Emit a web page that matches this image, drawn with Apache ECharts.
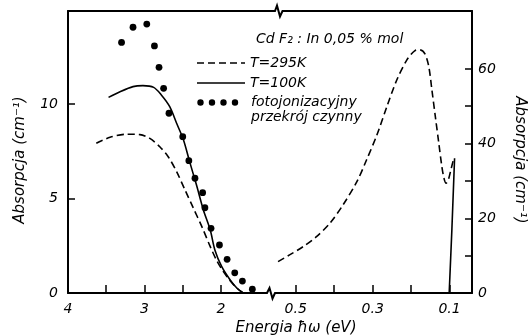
<!DOCTYPE html>
<html><head><meta charset="utf-8">
<script src="https://cdn.jsdelivr.net/npm/echarts@6/dist/echarts.min.js"></script>
<style>html,body{margin:0;padding:0;background:#fff}#c{width:529px;height:336px}</style>
</head><body><div id="c"></div>
<script>
// ---- data (energy in eV, absorption in cm^-1) ----
// visible / near-UV range (left axis)
const t295VisE = [3.63, 3.45, 3.23, 3.06, 2.93, 2.80, 2.69, 2.58, 2.47, 2.36, 2.25, 2.14, 2.06, 1.98, 1.88, 1.79, 1.71];
const t295VisA = [7.92, 8.24, 8.40, 8.38, 8.18, 7.74, 7.21, 6.42, 5.45, 4.48, 3.51, 2.45, 1.75, 1.2, 0.65, 0.25, 0.0];
const t100VisE = [3.47, 3.32, 3.15, 3.02, 2.88, 2.78, 2.67, 2.58, 2.49, 2.41, 2.32, 2.23, 2.14, 2.08, 1.99, 1.88, 1.79, 1.71];
const t100VisA = [10.35, 10.65, 10.92, 10.97, 10.88, 10.48, 9.86, 8.98, 8.10, 6.95, 5.71, 4.39, 3.33, 2.28, 1.39, 0.69, 0.25, 0.0];
const photoE = [3.30, 3.15, 2.97, 2.87, 2.81, 2.75, 2.68, 2.50, 2.42, 2.34, 2.24, 2.21, 2.13, 2.02, 1.92, 1.82, 1.72, 1.59];
const photoA = [13.26, 14.06, 14.23, 13.07, 11.94, 10.83, 9.51, 8.27, 7.00, 6.07, 5.31, 4.51, 3.42, 2.54, 1.78, 1.07, 0.63, 0.20];
// infrared range (right axis)
const t295IrE = [0.546, 0.516, 0.481, 0.446, 0.411, 0.377, 0.341, 0.316, 0.289, 0.263, 0.237, 0.211, 0.190, 0.177, 0.164, 0.154, 0.146, 0.137, 0.128, 0.120, 0.114, 0.109, 0.103, 0.097, 0.090];
const t295IrA = [8.4, 10.2, 12.4, 15.1, 18.7, 23.6, 29.8, 35.6, 42.3, 49.9, 57.1, 62.4, 64.9, 65.1, 64.0, 60.6, 54.4, 47.2, 40.1, 33.8, 30.5, 29.4, 30.4, 32.8, 35.7];
const t100IrE = [0.101, 0.094, 0.087];
const t100IrA = [0.0, 17.0, 36.1];
// axis ticks / labels
const visTicks = [4, 3.5, 3, 2.5, 2];
const visLabels = [4, 3, 2];
const irTicks = [0.5, 0.4, 0.3, 0.2, 0.1];
const irLabels = [0.5, 0.3, 0.1];
const leftYTicks = [0, 5, 10];
const rightYTicks = [0, 10, 20, 30, 40, 50, 60];
const rightYLabels = [0, 20, 40, 60];
const names = ['T=295K', 'T=100K', 'fotojonizacyjny\nprzekrój czynny'];

const zip = (a, b) => a.map((v, i) => [v, b[i]]);
const FF = 'DejaVu Sans';
const txt = {fontFamily: FF, fontStyle: 'italic', color: '#000', fontSize: 14};
const axLine = {show: true, lineStyle: {color: '#000', width: 2}};

function xAx(grid, min, max, ticks, labels, pos) {
  const top = pos === 'top';
  return {
    type: 'value', gridIndex: grid, min: min, max: max, inverse: true, position: pos,
    axisLine: axLine, splitLine: {show: false},
    axisTick: {show: !top, inside: true, length: 8, customValues: ticks, lineStyle: {color: '#000', width: 1.5}},
    axisLabel: {show: !top, customValues: labels, margin: 9, ...txt,
      formatter: v => (Math.abs(v) < 1 ? v.toFixed(1) : String(v))}
  };
}

const chart = echarts.init(document.getElementById('c'), null, {renderer: 'canvas'});
// legend icons (decoration only)
const dotsIcon = 'path://M0,0M49,30' +
  [3.5, 15, 26.5, 38].map(cx => 'M' + (cx - 3.2) + ',7.5a3.2,3.2 0 1,0 6.4,0a3.2,3.2 0 1,0 -6.4,0').join('');
const dashIcon = 'path://M0,0M48,14' +
  [0, 11, 22, 33, 44].map(x0 => 'M' + x0 + ',6.2h' + Math.min(7, 48 - x0) + 'v1.6h-' + Math.min(7, 48 - x0) + 'z').join('');
const solidIcon = 'path://M0,0M48,14M0,6.2h48v1.6h-48z';

chart.setOption({
  animation: false,
  backgroundColor: '#fff',
  title: {text: 'Cd F₂ : In 0,05 % mol', left: 256, top: 32, padding: 0,
    textStyle: {...txt, fontWeight: 'normal'}},
  legend: [
    {data: [{name: names[0], icon: dashIcon}, {name: names[1], icon: solidIcon}], orient: 'vertical', left: 197, top: 56, padding: 0,
      itemWidth: 48, itemHeight: 14, itemGap: 6, selectedMode: false,
      textStyle: {...txt, lineHeight: 14}},
    {data: [{name: names[2], icon: dotsIcon}], orient: 'vertical', left: 197, top: 95, padding: 0,
      itemWidth: 49, itemHeight: 30, selectedMode: false,
      textStyle: {...txt, lineHeight: 15}}
  ],
  grid: [
    {left: 68, top: 11, width: 204, height: 282},
    {left: 272, top: 11, width: 200, height: 282}
  ],
  xAxis: [
    xAx(0, 1.333, 4, visTicks, visLabels, 'bottom'),
    xAx(1, 0.0417, 0.5617, irTicks, irLabels, 'bottom'),
    xAx(0, 1.333, 4, visTicks, visLabels, 'top'),
    xAx(1, 0.0417, 0.5617, irTicks, irLabels, 'top')
  ],
  yAxis: [
    {type: 'value', gridIndex: 0, min: 0, max: 14.92, position: 'left',
      name: 'Absorpcja (cm⁻¹)', nameLocation: 'middle', nameGap: 40, nameRotate: 90,
      nameTextStyle: {...txt, fontSize: 15, padding: [0, 16, 0, 0]},
      axisLine: axLine, splitLine: {show: false},
      axisTick: {show: true, inside: true, length: 7, customValues: leftYTicks, lineStyle: {color: '#000', width: 1.5}},
      axisLabel: {customValues: leftYTicks, margin: 10, ...txt}},
    {type: 'value', gridIndex: 1, min: 0, max: 75.5, position: 'right',
      name: 'Absorpcja (cm⁻¹)', nameLocation: 'middle', nameGap: 40, nameRotate: -90,
      nameTextStyle: {...txt, fontSize: 15, padding: [0, 0, 0, 16]},
      axisLine: axLine, splitLine: {show: false},
      axisTick: {show: true, inside: true, length: 7, customValues: rightYTicks, lineStyle: {color: '#000', width: 1.5}},
      axisLabel: {customValues: rightYLabels, margin: 6, ...txt}}
  ],
  series: [
    {name: names[0], type: 'line', xAxisIndex: 0, yAxisIndex: 0, data: zip(t295VisE, t295VisA),
      symbol: 'none', smooth: 0.3, lineStyle: {color: '#000', width: 1.6, type: [7, 4]}, itemStyle: {color: '#000'}},
    {name: names[1], type: 'line', xAxisIndex: 0, yAxisIndex: 0, data: zip(t100VisE, t100VisA),
      symbol: 'none', smooth: 0.3, lineStyle: {color: '#000', width: 1.6}, itemStyle: {color: '#000'}},
    {name: names[2], type: 'scatter', xAxisIndex: 0, yAxisIndex: 0, data: zip(photoE, photoA),
      symbolSize: 6.8, itemStyle: {color: '#000', opacity: 1}},
    {name: names[0], type: 'line', xAxisIndex: 1, yAxisIndex: 1, data: zip(t295IrE, t295IrA),
      symbol: 'none', smooth: 0.3, lineStyle: {color: '#000', width: 1.6, type: [7, 4]}, itemStyle: {color: '#000'}},
    {name: names[1], type: 'line', xAxisIndex: 1, yAxisIndex: 1, data: zip(t100IrE, t100IrA),
      symbol: 'none', lineStyle: {color: '#000', width: 1.6}, itemStyle: {color: '#000'}}
  ],
  graphic: [
    {type: 'text', x: 296, y: 328, z: 100,
      style: {text: 'Energia ħω (eV)', fontFamily: FF, fontStyle: 'italic', fontSize: 15, fill: '#000',
        textAlign: 'center', textVerticalAlign: 'middle'}},
    {type: 'rect', z: 100, shape: {x: 274, y: 8, width: 9, height: 6}, style: {fill: '#fff'}},
    {type: 'polyline', z: 101, shape: {points: [[271, 11], [275, 11], [277, 5.5], [280, 16.5], [282.5, 11], [286, 11]]},
      style: {stroke: '#000', lineWidth: 2, fill: null}},
    {type: 'rect', z: 100, shape: {x: 266, y: 290, width: 9, height: 6}, style: {fill: '#fff'}},
    {type: 'polyline', z: 101, shape: {points: [[263, 293], [267, 293], [269.5, 288], [272.5, 298.5], [275, 293], [279, 293]]},
      style: {stroke: '#000', lineWidth: 2, fill: null}}
  ]
});
</script></body></html>
